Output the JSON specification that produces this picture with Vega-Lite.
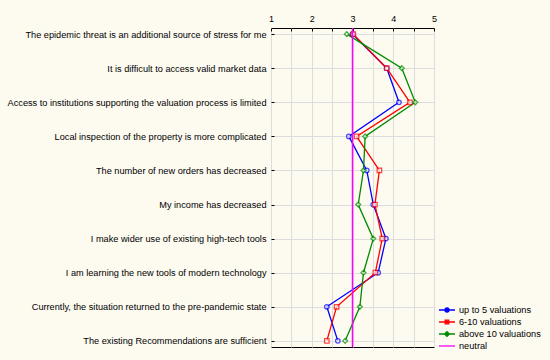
{
  "$schema": "https://vega.github.io/schema/vega-lite/v6.json",
  "autosize": {"type": "none"},
  "padding": {"left": 271, "top": 28, "right": 116, "bottom": 13},
  "width": 163,
  "height": 319,
  "background": "#FDFAF0",
  "config": {
    "view": {"fill": "white", "stroke": "black", "strokeWidth": 1},
    "font": "Liberation Sans",
    "axis": {"labelFont": "Liberation Sans", "labelColor": "black", "domain": false, "grid": true, "gridColor": "#DDDDDD", "gridWidth": 1, "tickColor": "black"},
    "legend": {"labelFont": "Liberation Sans", "labelColor": "black"}
  },
  "data": {"values": [
    {"q": "The epidemic threat is an additional source of stress for me", "i": 1, "group": "up to 5 valuations", "value": 3.0},
    {"q": "It is difficult to access valid market data", "i": 2, "group": "up to 5 valuations", "value": 3.84},
    {"q": "Access to institutions supporting the valuation process is limited", "i": 3, "group": "up to 5 valuations", "value": 4.14},
    {"q": "Local inspection of the property is more complicated", "i": 4, "group": "up to 5 valuations", "value": 2.91},
    {"q": "The number of new orders has decreased", "i": 5, "group": "up to 5 valuations", "value": 3.35},
    {"q": "My income has decreased", "i": 6, "group": "up to 5 valuations", "value": 3.51},
    {"q": "I make wider use of existing high-tech tools", "i": 7, "group": "up to 5 valuations", "value": 3.82},
    {"q": "I am learning the new tools of modern technology", "i": 8, "group": "up to 5 valuations", "value": 3.63},
    {"q": "Currently, the situation returned to the pre-pandemic state", "i": 9, "group": "up to 5 valuations", "value": 2.37},
    {"q": "The existing Recommendations are sufficient", "i": 10, "group": "up to 5 valuations", "value": 2.64},
    {"q": "The epidemic threat is an additional source of stress for me", "i": 1, "group": "6-10 valuations", "value": 3.02},
    {"q": "It is difficult to access valid market data", "i": 2, "group": "6-10 valuations", "value": 3.84},
    {"q": "Access to institutions supporting the valuation process is limited", "i": 3, "group": "6-10 valuations", "value": 4.41},
    {"q": "Local inspection of the property is more complicated", "i": 4, "group": "6-10 valuations", "value": 3.10},
    {"q": "The number of new orders has decreased", "i": 5, "group": "6-10 valuations", "value": 3.66},
    {"q": "My income has decreased", "i": 6, "group": "6-10 valuations", "value": 3.55},
    {"q": "I make wider use of existing high-tech tools", "i": 7, "group": "6-10 valuations", "value": 3.73},
    {"q": "I am learning the new tools of modern technology", "i": 8, "group": "6-10 valuations", "value": 3.56},
    {"q": "Currently, the situation returned to the pre-pandemic state", "i": 9, "group": "6-10 valuations", "value": 2.61},
    {"q": "The existing Recommendations are sufficient", "i": 10, "group": "6-10 valuations", "value": 2.37},
    {"q": "The epidemic threat is an additional source of stress for me", "i": 1, "group": "above 10 valuations", "value": 2.86},
    {"q": "It is difficult to access valid market data", "i": 2, "group": "above 10 valuations", "value": 4.21},
    {"q": "Access to institutions supporting the valuation process is limited", "i": 3, "group": "above 10 valuations", "value": 4.54},
    {"q": "Local inspection of the property is more complicated", "i": 4, "group": "above 10 valuations", "value": 3.31},
    {"q": "The number of new orders has decreased", "i": 5, "group": "above 10 valuations", "value": 3.27},
    {"q": "My income has decreased", "i": 6, "group": "above 10 valuations", "value": 3.14},
    {"q": "I make wider use of existing high-tech tools", "i": 7, "group": "above 10 valuations", "value": 3.51},
    {"q": "I am learning the new tools of modern technology", "i": 8, "group": "above 10 valuations", "value": 3.27},
    {"q": "Currently, the situation returned to the pre-pandemic state", "i": 9, "group": "above 10 valuations", "value": 3.18},
    {"q": "The existing Recommendations are sufficient", "i": 10, "group": "above 10 valuations", "value": 2.82}
  ]},
  "encoding": {
    "x": {"field": "value", "type": "quantitative",
      "scale": {"domain": [1, 5], "nice": false, "zero": false},
      "axis": {"orient": "top", "title": null, "values": [1, 1.5, 2, 2.5, 3, 3.5, 4, 4.5, 5],
        "labelExpr": "datum.value % 1 === 0 ? format(datum.value, 'd') : ''", "labelFontSize": 9, "labelPadding": 8, "tickSize": -3, "labelFlush": false}},
    "y": {"field": "q", "type": "nominal",
      "sort": {"field": "i", "op": "min"},
      "scale": {"type": "point", "padding": 0.18},
      "axis": {"title": null, "labelFontSize": 9.2, "labelPadding": 8, "tickSize": -3, "labelLimit": 300, "grid": true}}
  },
  "layer": [
    {
      "mark": {"type": "line", "strokeWidth": 1.3},
      "encoding": {
        "color": {"field": "group", "type": "nominal",
          "scale": {"domain": ["neutral", "up to 5 valuations", "6-10 valuations", "above 10 valuations"], "range": ["#FF00FF", "#0000FF", "#FF0000", "#008C00"]},
          "legend": null},
        "order": {"field": "i", "type": "quantitative"}
      }
    },
    {
      "transform": [{"filter": "datum.group === 'up to 5 valuations'"}],
      "mark": {"type": "point", "shape": "circle", "filled": false, "fill": "white", "size": 20, "strokeWidth": 1.3},
      "encoding": {"color": {"field": "group", "type": "nominal", "legend": null}}
    },
    {
      "transform": [{"filter": "datum.group === '6-10 valuations'"}],
      "mark": {"type": "point", "shape": "square", "filled": false, "fill": "white", "size": 20, "strokeWidth": 1.3},
      "encoding": {"color": {"field": "group", "type": "nominal", "legend": null}}
    },
    {
      "transform": [{"filter": "datum.group === 'above 10 valuations'"}],
      "mark": {"type": "point", "shape": "diamond", "filled": false, "fill": "white", "size": 24, "strokeWidth": 1.3},
      "encoding": {"color": {"field": "group", "type": "nominal", "legend": null}}
    },
    {
      "data": {"values": [{"value": 3, "group": "neutral"}]},
      "mark": {"type": "rule", "strokeWidth": 1.5},
      "encoding": {
        "x": {"field": "value", "type": "quantitative"},
        "y": null,
        "color": {"field": "group", "type": "nominal", "legend": null}
      }
    },
    {
      "data": {"values": []},
      "mark": {"type": "point", "filled": true, "opacity": 1},
      "encoding": {
        "x": null,
        "y": null,
        "fill": {"field": "group", "type": "nominal",
          "scale": {"domain": ["up to 5 valuations", "6-10 valuations", "above 10 valuations", "neutral"], "range": ["#0000FF", "#FF0000", "#008C00", "#FF00FF"]},
          "legend": {"title": null, "orient": "none", "legendX": 171, "legendY": 277, "labelFontSize": 9.2, "symbolSize": 64, "symbolStrokeWidth": 1.3, "symbolOpacity": 1, "rowPadding": 1, "labelOffset": 7}},
        "stroke": {"field": "group", "type": "nominal",
          "scale": {"domain": ["up to 5 valuations", "6-10 valuations", "above 10 valuations", "neutral"], "range": ["#0000FF", "#FF0000", "#008C00", "#FF00FF"]},
          "legend": {"title": null, "orient": "none", "legendX": 171, "legendY": 277, "labelFontSize": 9.2, "symbolSize": 64, "symbolStrokeWidth": 1.3, "symbolOpacity": 1, "rowPadding": 1, "labelOffset": 7}},
        "shape": {"field": "group", "type": "nominal",
          "scale": {"domain": ["up to 5 valuations", "6-10 valuations", "above 10 valuations", "neutral"],
            "range": ["M-2,0L2,0M0.5,0A0.5,0.5,0,1,1,-0.5,0A0.5,0.5,0,1,1,0.5,0Z", "M-2,0L2,0M-0.45,-0.45L0.45,-0.45L0.45,0.45L-0.45,0.45Z", "M-2,0L2,0M0,-0.6L0.6,0L0,0.6L-0.6,0Z", "M-2,0L2,0"]},
          "legend": {"title": null, "orient": "none", "legendX": 171, "legendY": 277, "labelFontSize": 9.2, "symbolSize": 64, "symbolStrokeWidth": 1.3, "symbolOpacity": 1, "rowPadding": 1, "labelOffset": 7}}
      }
    }
  ]
}
